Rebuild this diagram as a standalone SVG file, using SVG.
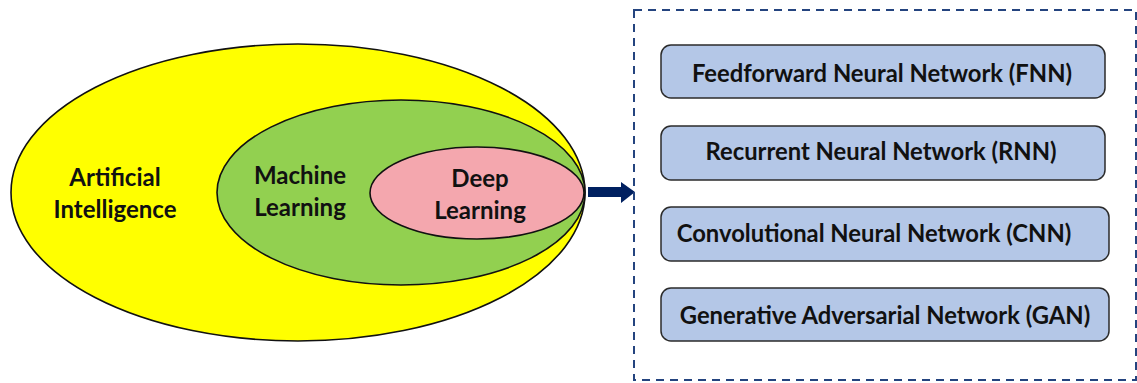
<svg xmlns="http://www.w3.org/2000/svg" width="1137" height="383" viewBox="0 0 1137 383">
<style>
.ell{stroke:#111;stroke-width:1.6}
.lbl{font-family:Lato,"Liberation Sans",sans-serif;font-weight:bold;font-size:24px;fill:#111;text-anchor:middle}
.box{fill:#b4c7e7;stroke:#2b2b2b;stroke-width:1.5}
.btxt{font-family:Lato,"Liberation Sans",sans-serif;font-weight:bold;font-size:23.8px;fill:#111;text-anchor:middle}
</style>
<rect width="1137" height="383" fill="#fff"/>
<g id="ai">
<ellipse class="ell" cx="298" cy="192.5" rx="287" ry="148.5" fill="#ffff00"/>
<text class="lbl" x="115" y="186">Artificial</text>
<text class="lbl" x="115" y="218">Intelligence</text>
</g>
<g id="ml">
<ellipse class="ell" cx="401" cy="192.5" rx="184" ry="92.5" fill="#92d050"/>
<text class="lbl" x="300" y="184">Machine</text>
<text class="lbl" x="300" y="216">Learning</text>
</g>
<g id="dl">
<ellipse class="ell" cx="477" cy="193" rx="107" ry="46" fill="#f4a7ae"/>
<text class="lbl" x="480" y="187">Deep</text>
<text class="lbl" x="480" y="219">Learning</text>
</g>
<g id="connectors">
<polygon points="588,187 621,187 621,182 635,192 621,203 621,197 588,197" fill="#002060"/>
</g>
<g id="group">
<rect x="634" y="10" width="502" height="370" fill="none" stroke="#24447f" stroke-width="2" stroke-dasharray="8,6"/>
</g>
<g id="fnn">
<rect class="box" x="661" y="45" width="444" height="53" rx="10"/>
<text class="btxt" x="882" y="82">Feedforward Neural Network (FNN)</text>
</g>
<g id="rnn">
<rect class="box" x="661" y="126" width="444" height="54" rx="10"/>
<text class="btxt" x="881" y="160">Recurrent Neural Network (RNN)</text>
</g>
<g id="cnn">
<rect class="box" x="661" y="207" width="448" height="54" rx="10"/>
<text class="btxt" x="874" y="242">Convolutional Neural Network (CNN)</text>
</g>
<g id="gan">
<rect class="box" x="661" y="288" width="448" height="53" rx="10"/>
<text class="btxt" x="885" y="324">Generative Adversarial Network (GAN)</text>
</g>
</svg>
